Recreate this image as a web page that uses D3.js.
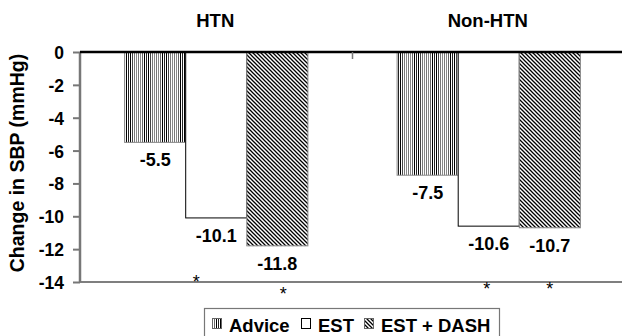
<!DOCTYPE html>
<html><head><meta charset="utf-8">
<script src="https://cdn.jsdelivr.net/npm/d3@7"></script>
<style>
html,body{margin:0;padding:0;background:#fff;}
svg{display:block;font-family:Arial,"Liberation Sans",sans-serif;}
</style></head>
<body>
<svg id="c" width="622" height="336"></svg>
<script>
const groups = ["HTN", "Non-HTN"];
const series = ["Advice", "EST", "EST + DASH"];
const advice = [-5.5, -7.5];
const est = [-10.1, -10.6];
const estDash = [-11.8, -10.7];
const yTicks = [0, -2, -4, -6, -8, -10, -12, -14];
const stars = [
  {group: "HTN", series: "EST", dx: -20, dy: 6},
  {group: "HTN", series: "EST + DASH", dx: 6, dy: 18},
  {group: "Non-HTN", series: "EST", dx: -2, dy: 13},
  {group: "Non-HTN", series: "EST + DASH", dx: 0, dy: 13}
];

const values = {"Advice": advice, "EST": est, "EST + DASH": estDash};
const SY = 1.04;
const svg = d3.select("#c");
const defs = svg.append("defs");

function txt(sel, x, yv) {
  return sel.attr("x", 0).attr("y", 0).attr("transform", `translate(${x},${yv}) scale(1,${SY})`);
}

// Advice pattern: vertical stripes with darker bands
const pa = defs.append("pattern").attr("id", "pAdvice").attr("patternUnits", "userSpaceOnUse")
  .attr("width", 18).attr("height", 4);
pa.append("rect").attr("width", 18).attr("height", 4).attr("fill", "#fff");
const stripeCols = ["#000", "#222", "#000", "#444", "#777", "#888", "#777", "#888", "#666"];
stripeCols.forEach((c, i) => pa.append("rect").attr("x", i * 2).attr("y", 0).attr("width", 1).attr("height", 4).attr("fill", c));

// DASH pattern: diagonal lines top-left to bottom-right
const pd = defs.append("pattern").attr("id", "pDash").attr("patternUnits", "userSpaceOnUse")
  .attr("width", 4).attr("height", 4);
pd.append("rect").attr("width", 4).attr("height", 4).attr("fill", "#fff");
pd.append("path").attr("d", "M-1,-1 L5,5 M-1,3 L1,5 M3,-1 L5,1").attr("stroke", "#000").attr("stroke-width", 1.3);

const fills = {"Advice": "url(#pAdvice)", "EST": "#fff", "EST + DASH": "url(#pDash)"};
const strokes = {"Advice": "#888", "EST": "#000", "EST + DASH": "#888"};

const x0 = d3.scaleBand().domain(groups).range([80, 625]).padding(0);
const x1 = d3.scaleBand().domain(series).range([0, x0.bandwidth()]).paddingInner(0).paddingOuter(0.73);
const y = d3.scaleLinear().domain([-14, 0]).range([282, 52]);

// bottom line (-14)
svg.append("line").attr("x1", 80).attr("x2", 622).attr("y1", y(-14)).attr("y2", y(-14))
  .attr("stroke", "#555").attr("stroke-width", 1.5);

// bars
const data = [];
groups.forEach((g, gi) => series.forEach(s => data.push({group: g, series: s, value: values[s][gi]})));

svg.append("g").selectAll("rect").data(data).join("rect")
  .attr("x", d => x0(d.group) + x1(d.series))
  .attr("y", y(0))
  .attr("width", x1.bandwidth())
  .attr("height", d => y(d.value) - y(0))
  .attr("fill", d => fills[d.series])
  .attr("stroke", d => strokes[d.series])
  .attr("stroke-width", 1);

// value labels
svg.append("g").selectAll("text").data(data).join("text")
  .each(function(d) {
    txt(d3.select(this), x0(d.group) + x1(d.series) + x1.bandwidth() / 2, y(d.value) + 24);
  })
  .attr("text-anchor", "middle")
  .attr("font-size", 18).attr("font-weight", "bold")
  .text(d => d.value.toFixed(1));

// y axis
const yAxis = d3.axisLeft(y).tickValues(yTicks).tickSize(7).tickPadding(9).tickFormat(d => String(d));
const ga = svg.append("g").attr("transform", "translate(80,0)").call(yAxis);
ga.select(".domain").attr("stroke", "#777").attr("stroke-width", 2.5).attr("d", `M0,${y(0)}V${y(-14)}`);
ga.selectAll(".tick line").attr("stroke", "#777").attr("stroke-width", 2);
ga.selectAll(".tick text").attr("font-size", 17.5).attr("font-weight", "bold").attr("fill", "#000")
  .attr("font-family", "Arial, 'Liberation Sans', sans-serif")
  .attr("dy", null)
  .attr("x", 0).attr("y", 0)
  .attr("transform", `translate(-16,6.5) scale(1,${SY})`)
  .text(d => String(d));

// zero line (x axis)
svg.append("line").attr("x1", 80).attr("x2", 622).attr("y1", y(0)).attr("y2", y(0))
  .attr("stroke", "#000").attr("stroke-width", 2.5);
// category divider tick
svg.append("line").attr("x1", x0("Non-HTN")).attr("x2", x0("Non-HTN")).attr("y1", y(0)).attr("y2", y(0) + 7)
  .attr("stroke", "#777").attr("stroke-width", 1.5);

// group titles
svg.append("g").selectAll("text").data(groups).join("text")
  .each(function(g) { txt(d3.select(this), x0(g) + x0.bandwidth() / 2 - 1, 27); })
  .attr("text-anchor", "middle")
  .attr("font-size", 18.5).attr("font-weight", "bold")
  .text(g => g);

// y title
svg.append("text")
  .attr("transform", `translate(24,${(y(0) + y(-14)) / 2 - 4}) rotate(-90)`)
  .attr("text-anchor", "middle")
  .attr("font-size", 19.5).attr("font-weight", "bold")
  .text("Change in SBP (mmHg)");

// stars
svg.append("g").selectAll("text").data(stars).join("text")
  .attr("x", d => x0(d.group) + x1(d.series) + x1.bandwidth() / 2 + d.dx)
  .attr("y", d => y(-14) + d.dy)
  .attr("text-anchor", "middle")
  .attr("font-size", 18)
  .text("*");

// legend
const lg = svg.append("g");
lg.append("rect").attr("x", 204.5).attr("y", 308.5).attr("width", 295).attr("height", 40)
  .attr("fill", "#fff").attr("stroke", "#777").attr("stroke-width", 1.2);
const legendX = {"Advice": 212, "EST": 301, "EST + DASH": 364};
series.forEach(s => {
  lg.append("rect").attr("x", legendX[s] + 0.5).attr("y", 318.5).attr("width", 9).attr("height", 10)
    .attr("fill", fills[s]).attr("stroke", s === "EST" ? "#000" : "#666").attr("stroke-width", 1);
  txt(lg.append("text"), legendX[s] + 17, 331.5)
    .attr("font-size", 18.5).attr("font-weight", "bold").text(s);
});
</script>
</body></html>
